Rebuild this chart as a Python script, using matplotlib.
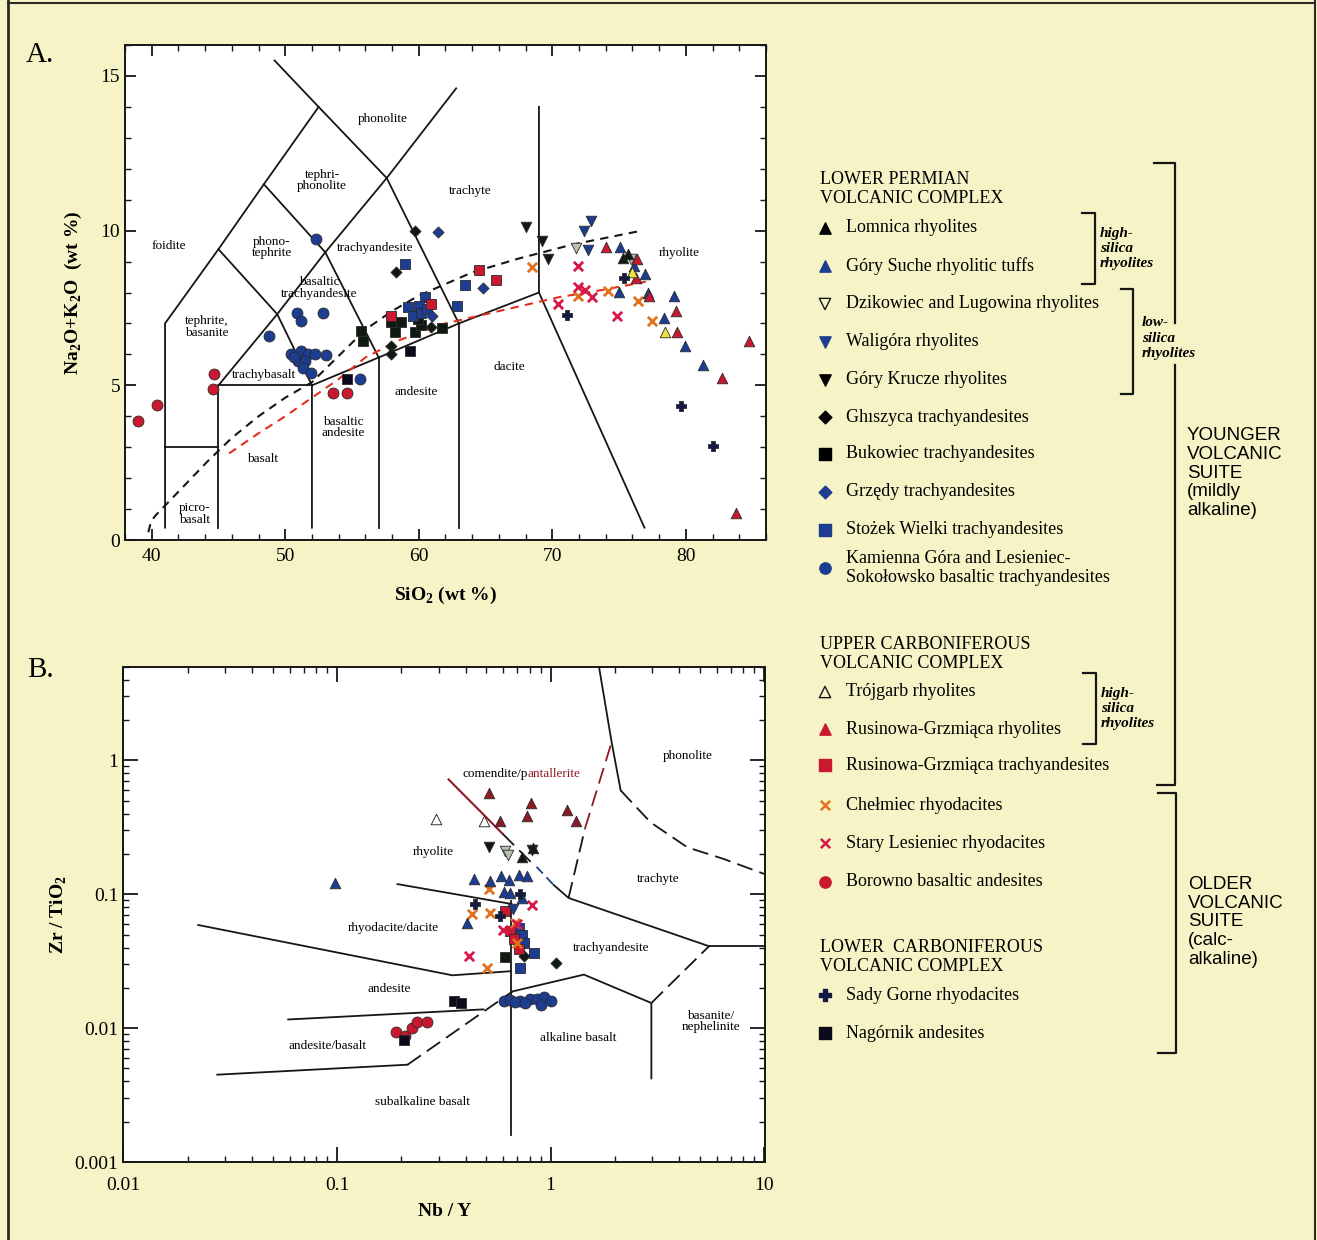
import numpy as np
import matplotlib
matplotlib.use('Agg')
import matplotlib.pyplot as plt
from matplotlib.ticker import LogLocator, NullFormatter, MultipleLocator

plt.rcParams['font.family'] = 'Liberation Serif'
plt.rcParams['mathtext.fontset'] = 'custom'
plt.rcParams['mathtext.rm'] = 'Liberation Serif'
plt.rcParams['mathtext.bf'] = 'Liberation Serif:bold'

PAPER = '#f6f4c6'
INK = '#161616'
BLACK = '#10190f'
BLUE = '#1d3d92'
RED = '#c9182f'
MAROON = '#8c1a24'
ORANGE = '#e2711d'
CRIMSON = '#d6184a'
NAVY = '#141a44'
YELLOW = '#f0e03a'
GREY = '#b8c2b4'

# ---------------- panel A: SiO2 vs Na2O+K2O ----------------
lomnica_sio2 = [75.3, 75.7]
lomnica_alk = [9.1, 9.25]
suche_sio2 = [75.1, 76.15, 76.95, 77.15, 75.0, 79.15, 78.4, 79.95, 81.25]
suche_alk = [9.47, 8.87, 8.6, 7.99, 8.01, 7.9, 7.17, 6.26, 5.65]
dzikowiec_sio2 = [71.8, 75.9]
dzikowiec_alk = [9.45, 9.07]
waligora_sio2 = [72.9, 72.4, 72.7]
waligora_alk = [10.3, 9.98, 9.39]
krucze_sio2 = [68.0, 69.2, 69.7]
krucze_alk = [10.12, 9.67, 9.09]
ghiszyca_sio2 = [59.75, 58.3, 57.95, 57.9, 60.9]
ghiszyca_alk = [9.99, 8.66, 6.28, 6.01, 6.89]
bukowiec_sio2 = [55.7, 55.8, 57.95, 58.7, 58.2, 59.7, 60.2, 61.75, 59.95]
bukowiec_alk = [6.76, 6.44, 7.04, 7.06, 6.73, 6.73, 6.95, 6.84, 7.14]
grzedy_sio2 = [61.45, 64.8, 61.0]
grzedy_alk = [9.96, 8.15, 7.25]
stozek_sio2 = [58.95, 60.5, 59.2, 60.0, 59.6, 60.15, 60.65, 63.45, 62.9]
stozek_alk = [8.91, 7.85, 7.54, 7.57, 7.25, 7.34, 7.47, 8.25, 7.57]
kamienna_sio2 = [52.33, 48.78, 50.9, 51.2, 52.83, 50.45, 51.16, 51.7, 52.2,
                 50.95, 51.45, 51.35, 51.95, 53.08, 55.58, 50.65]
kamienna_alk = [9.74, 6.6, 7.33, 7.09, 7.34, 6.01, 6.11, 6.01, 6.01,
                5.79, 5.79, 5.57, 5.41, 5.98, 5.22, 5.91]
trojgarb_sio2 = [76.0, 78.45]
trojgarb_alk = [8.66, 6.71]
rusrhy_sio2 = [74.0, 76.35, 76.3, 77.25, 79.25, 79.35, 82.7, 84.75, 83.75]
rusrhy_alk = [9.47, 9.09, 8.46, 7.9, 7.41, 6.71, 5.25, 6.42, 0.87]
rustra_sio2 = [64.5, 65.8, 60.9, 57.95]
rustra_alk = [8.74, 8.42, 7.63, 7.25]
chelmiec_sio2 = [68.5, 71.95, 74.2, 76.4, 77.45]
chelmiec_alk = [8.84, 7.9, 8.06, 7.72, 7.07]
stary_sio2 = [71.9, 71.95, 72.45, 70.45, 72.95, 74.85]
stary_alk = [8.87, 8.17, 8.09, 7.63, 7.85, 7.23]
borowno_sio2 = [39.0, 40.4, 44.65, 44.6, 53.6, 54.6]
borowno_alk = [3.84, 4.35, 5.38, 4.89, 4.74, 4.76]
sady_sio2 = [75.4, 71.1, 79.6, 82.0]
sady_alk = [8.46, 7.28, 4.33, 3.03]
nagornik_sio2 = [54.6, 59.35]
nagornik_alk = [5.22, 6.11]

# ---------------- panel B: Nb/Y vs Zr/TiO2 ----------------
lomnica_nby = [0.737, 0.83]
lomnica_zr = [0.19, 0.22]
suche_nby = [0.098, 0.437, 0.583, 0.637, 0.710, 0.778, 0.604, 0.645, 0.737, 0.407, 0.523]
suche_zr = [0.122, 0.130, 0.137, 0.128, 0.140, 0.136, 0.104, 0.102, 0.094, 0.061, 0.126]
dzikowiec_nby = [0.615, 0.63]
dzikowiec_zr = [0.211, 0.198]
waligora_nby = [0.668]
waligora_zr = [0.077]
krucze_nby = [0.514, 0.821]
krucze_zr = [0.226, 0.215]
ghiszyca_nby = [1.055, 0.75]
ghiszyca_zr = [0.0307, 0.0344]
bukowiec_nby = [0.615]
bukowiec_zr = [0.034]
grzedy_nby = []
grzedy_zr = []
stozek_nby = [0.710, 0.737, 0.750, 0.835, 0.723]
stozek_zr = [0.0562, 0.0495, 0.0433, 0.0365, 0.0281]
kamienna_nby = [0.604, 0.649, 0.723, 0.80, 0.866, 0.930, 0.898, 1.0, 0.68, 0.76]
kamienna_zr = [0.0159, 0.0163, 0.016, 0.0166, 0.0166, 0.017, 0.015, 0.016, 0.0158, 0.0155]
trojgarb_nby = [0.292, 0.487]
trojgarb_zr = [0.367, 0.351]
rusrhy_nby = [0.514, 0.806, 0.778, 0.578, 1.19, 1.31]
rusrhy_zr = [0.569, 0.482, 0.387, 0.351, 0.429, 0.355]
rustra_nby = [0.615, 0.649, 0.710, 0.671]
rustra_zr = [0.075, 0.0531, 0.0387, 0.0462]
chelmiec_nby = [0.430, 0.523, 0.685, 0.698, 0.505, 0.514]
chelmiec_zr = [0.0708, 0.0728, 0.0609, 0.0433, 0.0281, 0.109]
stary_nby = [0.821, 0.600, 0.414, 0.693]
stary_zr = [0.0832, 0.0537, 0.0344, 0.0596]
borowno_nby = [0.188, 0.209, 0.225, 0.236, 0.264]
borowno_zr = [0.0094, 0.0088, 0.0100, 0.0112, 0.0111]
sady_nby = [0.445, 0.578, 0.723]
sady_zr = [0.0841, 0.0688, 0.100]
nagornik_nby = [0.206, 0.352, 0.382]
nagornik_zr = [0.0082, 0.01585, 0.01537]

# marker styles, legend labels
styles = {
    'lomnica':   dict(marker='^', color=BLACK, s=58, label='Lomnica rhyolites'),
    'suche':     dict(marker='^', color=BLUE, s=58, label='Góry Suche rhyolitic tuffs'),
    'dzikowiec': dict(marker='v', color=GREY, s=58, label='Dzikowiec and Lugowina rhyolites'),
    'waligora':  dict(marker='v', color=BLUE, s=58, label='Waligóra rhyolites'),
    'krucze':    dict(marker='v', color=BLACK, s=58, label='Góry Krucze rhyolites'),
    'ghiszyca':  dict(marker='D', color=BLACK, s=32, label='Ghıszyca trachyandesites'),
    'bukowiec':  dict(marker='s', color=BLACK, s=55, label='Bukowiec trachyandesites'),
    'grzedy':    dict(marker='D', color=BLUE, s=32, label='Grzędy trachyandesites'),
    'stozek':    dict(marker='s', color=BLUE, s=55, label='Stożek Wielki trachyandesites'),
    'kamienna':  dict(marker='o', color=BLUE, s=62,
                      label='Kamienna Góra and Lesieniec-\nSokołowsko basaltic trachyandesites'),
    'trojgarb':  dict(marker='^', color=YELLOW, s=58, label='Trójgarb rhyolites'),
    'rusrhy':    dict(marker='^', color=RED, s=58, label='Rusinowa-Grzmiąca rhyolites'),
    'rustra':    dict(marker='s', color=RED, s=55, label='Rusinowa-Grzmiąca trachyandesites'),
    'chelmiec':  dict(marker='x', color=ORANGE, s=45, label='Chełmiec rhyodacites'),
    'stary':     dict(marker='x', color=CRIMSON, s=45, label='Stary Lesieniec rhyodacites'),
    'borowno':   dict(marker='o', color=RED, s=62, label='Borowno basaltic andesites'),
    'sady':      dict(marker='P', color=NAVY, s=45, label='Sady Gorne rhyodacites'),
    'nagornik':  dict(marker='s', color='#0b0b1c', s=55, label='Nagórnik andesites'),
}

tas = {
    'kamienna': (kamienna_sio2, kamienna_alk), 'borowno': (borowno_sio2, borowno_alk),
    'bukowiec': (bukowiec_sio2, bukowiec_alk), 'nagornik': (nagornik_sio2, nagornik_alk),
    'stozek': (stozek_sio2, stozek_alk), 'rustra': (rustra_sio2, rustra_alk),
    'ghiszyca': (ghiszyca_sio2, ghiszyca_alk), 'grzedy': (grzedy_sio2, grzedy_alk),
    'krucze': (krucze_sio2, krucze_alk), 'waligora': (waligora_sio2, waligora_alk),
    'dzikowiec': (dzikowiec_sio2, dzikowiec_alk), 'chelmiec': (chelmiec_sio2, chelmiec_alk),
    'stary': (stary_sio2, stary_alk), 'suche': (suche_sio2, suche_alk),
    'lomnica': (lomnica_sio2, lomnica_alk), 'rusrhy': (rusrhy_sio2, rusrhy_alk),
    'trojgarb': (trojgarb_sio2, trojgarb_alk), 'sady': (sady_sio2, sady_alk),
}
wf = {
    'kamienna': (kamienna_nby, kamienna_zr), 'borowno': (borowno_nby, borowno_zr),
    'nagornik': (nagornik_nby, nagornik_zr), 'bukowiec': (bukowiec_nby, bukowiec_zr),
    'ghiszyca': (ghiszyca_nby, ghiszyca_zr), 'stozek': (stozek_nby, stozek_zr),
    'rustra': (rustra_nby, rustra_zr), 'grzedy': (grzedy_nby, grzedy_zr),
    'chelmiec': (chelmiec_nby, chelmiec_zr), 'stary': (stary_nby, stary_zr),
    'suche': (suche_nby, suche_zr), 'waligora': (waligora_nby, waligora_zr),
    'sady': (sady_nby, sady_zr), 'dzikowiec': (dzikowiec_nby, dzikowiec_zr),
    'krucze': (krucze_nby, krucze_zr), 'lomnica': (lomnica_nby, lomnica_zr),
    'trojgarb': (trojgarb_nby, trojgarb_zr), 'rusrhy': (rusrhy_nby, rusrhy_zr),
}


def plot_group(ax, xs, ys, st, face=None, edge='#2b2b2b', z=4):
    if len(xs) == 0:
        return
    if st['marker'] == 'x':
        ax.scatter(xs, ys, marker='x', s=st['s'], c=st['color'], linewidths=2.0,
                   zorder=z, clip_on=False)
    else:
        ax.scatter(xs, ys, marker=st['marker'], s=st['s'],
                   facecolors=face if face is not None else st['color'],
                   edgecolors=edge, linewidths=0.6, zorder=z, clip_on=False)


def polyline(ax, pts, **kw):
    xs, ys = zip(*pts)
    ax.plot(xs, ys, **kw)


fig = plt.figure(figsize=(13.17, 12.40), dpi=100, facecolor=PAPER)

# overlay in pixel units for the key, brackets and page frame
lax = fig.add_axes([0, 0, 1, 1])
lax.set_xlim(0, 1317)
lax.set_ylim(1240, 0)
lax.axis('off')
lax.patch.set_alpha(0)

axA = fig.add_axes([0.0949, 0.5645, 0.4867, 0.3992])
axB = fig.add_axes([0.0937, 0.0629, 0.4872, 0.3994])

# ---------------- TAS grid ----------------
tas_grid = [
    [(41, 0.4), (41, 7), (45, 9.4), (48.4, 11.5), (52.5, 14)],
    [(41, 3), (45, 3)],
    [(45, 0.4), (45, 5), (52, 5)],
    [(52, 0.4), (52, 5), (57, 5.9), (63, 7), (69, 8)],
    [(57, 0.4), (57, 5.9)],
    [(63, 0.4), (63, 7)],
    [(45, 5), (49.4, 7.3), (53, 9.3), (57.6, 11.7), (62.8, 14.6)],
    [(45, 9.4), (49.4, 7.3), (52, 5)],
    [(48.4, 11.5), (53, 9.3), (57, 5.9)],
    [(49.2, 15.5), (52.5, 14), (57.6, 11.7), (63, 7)],
    [(69, 14), (69, 8), (76.9, 0.4)],
]
for seg in tas_grid:
    polyline(axA, seg, color=INK, lw=1.3, zorder=2)

# alkaline / subalkaline divide and the trend line
irvine = [(39.75, 0.25), (39.95, 0.6), (40.3, 0.8), (42.2, 1.65), (44.2, 2.55), (46, 3.3),
          (48, 4.0), (50, 4.6), (52, 5.1), (54, 5.95), (56, 6.8), (58, 7.4), (60, 7.9),
          (64, 8.65), (67.5, 9.1), (71.5, 9.55), (76.7, 10.0)]
trend = [(45.8, 2.8), (48, 3.45), (50, 4.0), (52, 4.6), (54, 5.2), (56, 5.9), (58.5, 6.45),
         (61.5, 6.95), (66.5, 7.45), (70.5, 7.85), (74, 8.1), (77, 8.35)]
polyline(axA, irvine, color=INK, lw=1.5, ls=(0, (4, 3)), zorder=2)
polyline(axA, trend, color='#e0301e', lw=1.5, ls=(0, (4, 3)), zorder=2)

tas_names = [
    ('phonolite', 57.33, 13.6), ('tephri-\nphonolite', 52.76, 11.62), ('trachyte', 63.85, 11.27),
    ('foidite', 41.28, 9.51), ('phono-\ntephrite', 49.0, 9.45), ('trachyandesite', 56.72, 9.45),
    ('rhyolite', 79.47, 9.29), ('basaltic\ntrachyandesite', 52.56, 8.15),
    ('tephrite,\nbasanite', 44.14, 6.88), ('trachybasalt', 48.4, 5.32), ('dacite', 66.8, 5.58),
    ('andesite', 59.8, 4.8), ('basaltic\nandesite', 54.32, 3.64), ('basalt', 48.3, 2.63),
    ('picro-\nbasalt', 43.2, 0.84),
]
for name, x, y in tas_names:
    axA.text(x, y, name, fontsize=9.5, ha='center', va='center', linespacing=0.95, zorder=3)

for key, (xs, ys) in tas.items():
    plot_group(axA, xs, ys, styles[key])

axA.set_xlim(38, 86)
axA.set_ylim(0, 16)
axA.set_xticks([40, 50, 60, 70, 80])
axA.xaxis.set_minor_locator(MultipleLocator(2))
axA.set_yticks([0, 5, 10, 15])
axA.yaxis.set_minor_locator(MultipleLocator(1))
axA.set_xlabel(r'SiO$_\mathbf{2}$ (wt %)', fontsize=14, fontweight='bold', labelpad=14)
axA.set_ylabel(r'Na$_\mathbf{2}$O+K$_\mathbf{2}$O  (wt %)', fontsize=14, fontweight='bold',
               labelpad=12)

# ---------------- Winchester & Floyd grid ----------------
solid = dict(color=INK, lw=1.3, zorder=2)
dashed = dict(color=INK, lw=1.3, ls=(0, (9, 4)), zorder=2)
wf_solid = [
    [(0.0224, 0.0589), (0.347, 0.0248), (0.649, 0.0266)],
    [(0.0591, 0.0116), (0.485, 0.0138)],
    [(0.0275, 0.00449), (0.214, 0.00533)],
    [(0.664, 0.0188), (1.433, 0.0251), (2.965, 0.0154), (2.965, 0.00421)],
    [(5.52, 0.0409), (10.1, 0.0409)],
    [(1.033, 0.1175), (1.214, 0.0938), (5.52, 0.0409)],
    [(0.656, 0.0891), (0.656, 0.00159)],
    [(0.192, 0.119), (0.656, 0.0846)],
    [(1.679, 5.2), (1.932, 1.365), (2.13, 0.596)],
]
wf_dashed = [
    [(0.214, 0.00533), (0.664, 0.0188)],
    [(2.965, 0.0154), (5.52, 0.0409)],
    [(0.596, 0.283), (0.815, 0.172)],
    [(1.214, 0.0938), (1.45, 0.31)],
    [(2.13, 0.596), (2.94, 0.344), (4.37, 0.224), (6.49, 0.183), (10.1, 0.141)],
]
for seg in wf_solid:
    polyline(axB, seg, **solid)
for seg in wf_dashed:
    polyline(axB, seg, **dashed)
polyline(axB, [(0.333, 0.72), (0.596, 0.283)], color=MAROON, lw=1.5, zorder=2)
polyline(axB, [(1.45, 0.31), (1.932, 1.365)], color=MAROON, lw=1.3, ls=(0, (9, 4)), zorder=2)
polyline(axB, [(0.86, 0.16), (1.033, 0.1175)], color=BLUE, lw=1.3, ls=(0, (5, 3)), zorder=2)

wf_names = [
    ('phonolite', 4.39, 1.07), ('rhyolite', 0.283, 0.2076), ('trachyte', 3.21, 0.13),
    ('rhyodacite/dacite', 0.1837, 0.0559), ('trachyandesite', 1.93, 0.0396),
    ('andesite', 0.176, 0.0195), ('basanite/\nnephelinite', 5.62, 0.0112),
    ('alkaline basalt', 1.353, 0.0085), ('andesite/basalt', 0.0901, 0.0074),
    ('subalkaline basalt', 0.251, 0.00281),
]
for name, x, y in wf_names:
    axB.text(x, y, name, fontsize=9.5, ha='center', va='center', linespacing=0.95, zorder=3)
axB.text(0.78, 0.745, 'comendite/p', fontsize=9.5, ha='right', va='baseline', zorder=3)
axB.text(0.78, 0.745, 'antallerite', fontsize=9.5, ha='left', va='baseline', color=MAROON,
         zorder=3)

for key, (xs, ys) in wf.items():
    st = styles[key]
    if key == 'rusrhy':
        plot_group(axB, xs, ys, st, face=MAROON)
    elif key == 'trojgarb':
        plot_group(axB, xs, ys, st, face='white', edge=INK)
    else:
        plot_group(axB, xs, ys, st)

axB.set_xscale('log')
axB.set_yscale('log')
axB.set_xlim(0.01, 10.1)
axB.set_ylim(0.001, 5.0)
axB.set_xticks([0.01, 0.1, 1, 10])
axB.set_xticklabels(['0.01', '0.1', '1', '10'])
axB.set_yticks([0.001, 0.01, 0.1, 1])
axB.set_yticklabels(['0.001', '0.01', '0.1', '1'])
for axis in (axB.xaxis, axB.yaxis):
    axis.set_minor_locator(LogLocator(base=10, subs=np.arange(2, 10)))
    axis.set_minor_formatter(NullFormatter())
axB.set_xlabel('Nb / Y', fontsize=14, fontweight='bold', labelpad=6)
axB.set_ylabel(r'Zr / TiO$_\mathbf{2}$', fontsize=14, fontweight='bold', labelpad=4)

for ax in (axA, axB):
    ax.set_facecolor('white')
    for sp in ax.spines.values():
        sp.set_linewidth(1.4)
        sp.set_color(INK)
    ax.tick_params(which='both', direction='in', top=True, right=True, labelsize=14,
                   color=INK)
    ax.tick_params(which='major', length=8, width=1.3)
    ax.tick_params(which='minor', length=4, width=1.0)
axA.tick_params(axis='x', which='major', pad=6)
axB.tick_params(which='major', length=11)
axB.tick_params(axis='x', which='major', pad=11)

# ---------------- panel letters ----------------
lax.text(40, 55, 'A.', fontsize=21, ha='center', va='center')
lax.text(40, 670, 'B.', fontsize=21, ha='center', va='center')

# ---------------- key ----------------
headings = [
    ('LOWER PERMIAN\nVOLCANIC COMPLEX', 189),
    ('UPPER CARBONIFEROUS\nVOLCANIC COMPLEX', 654),
    ('LOWER  CARBONIFEROUS\nVOLCANIC COMPLEX', 957),
]
for text, y in headings:
    lax.text(820, y, text, fontsize=13, ha='left', va='center', linespacing=1.12)

key_rows = [
    ('lomnica', 228), ('suche', 266), ('dzikowiec', 304), ('waligora', 342),
    ('krucze', 380), ('ghiszyca', 417), ('bukowiec', 454), ('grzedy', 492),
    ('stozek', 530), ('kamienna', 568), ('trojgarb', 692), ('rusrhy', 729),
    ('rustra', 765), ('chelmiec', 805), ('stary', 843), ('borowno', 882),
    ('sady', 995), ('nagornik', 1033),
]
for key, y in key_rows:
    st = styles[key]
    face = st['color']
    edge = face
    if key in ('trojgarb', 'dzikowiec'):
        face, edge = 'none', INK
    elif face == BLACK:
        face = edge = '#000000'
    if st['marker'] == 'x':
        lax.scatter([825], [y], marker='x', s=45, c=st['color'], linewidths=1.8)
    elif st['marker'] == 'D':
        lax.scatter([825], [y], marker='D', s=42, facecolors=face, edgecolors=edge,
                    linewidths=1.0)
    else:
        lax.scatter([825], [y], marker=st['marker'], s=66,
                    facecolors=face, edgecolors=edge, linewidths=1.0)
    lax.text(846, y, st['label'], fontsize=13, ha='left', va='center', linespacing=1.08)

# brackets
def bracket(x, y0, y1, xt, **kw):
    lax.plot([xt, x, x, xt], [y0, y0, y1, y1], color=INK, lw=1.6, **kw)

bracket(1095, 213, 284, 1082)
bracket(1133, 289, 394, 1121)
bracket(1096, 673, 744, 1083)
lax.plot([1154, 1175, 1175], [162.5, 162.5, 323], color=INK, lw=1.6)
lax.plot([1175, 1175, 1157], [365, 785, 785], color=INK, lw=1.6)
bracket(1176, 793, 1053, 1158)

silica = dict(fontsize=11, fontweight='bold', fontstyle='italic', ha='left',
              va='center', linespacing=1.2)
lax.text(1100, 248, 'high-\nsilica\nrhyolites', **silica)
lax.text(1142, 338, 'low-\nsilica\nrhyolites', **silica)
lax.text(1101, 708, 'high-\nsilica\nrhyolites', **silica)

suite = dict(fontsize=13.5, family='Liberation Sans', ha='left', va='center', linespacing=1.12)
lax.text(1187, 473, 'YOUNGER\nVOLCANIC\nSUITE\n(mildly\nalkaline)', **suite)
lax.text(1188, 922, 'OLDER\nVOLCANIC\nSUITE\n(calc-\nalkaline)', **suite)

# page frame
lax.plot([8, 8], [0, 1240], color='#2a2a2a', lw=2)
lax.plot([8, 1315], [3, 3], color='#2a2a2a', lw=1.5)
lax.plot([1315, 1315], [0, 1240], color='#2a2a2a', lw=1.5)

fig.savefig('out.png', dpi=100, facecolor=PAPER)
